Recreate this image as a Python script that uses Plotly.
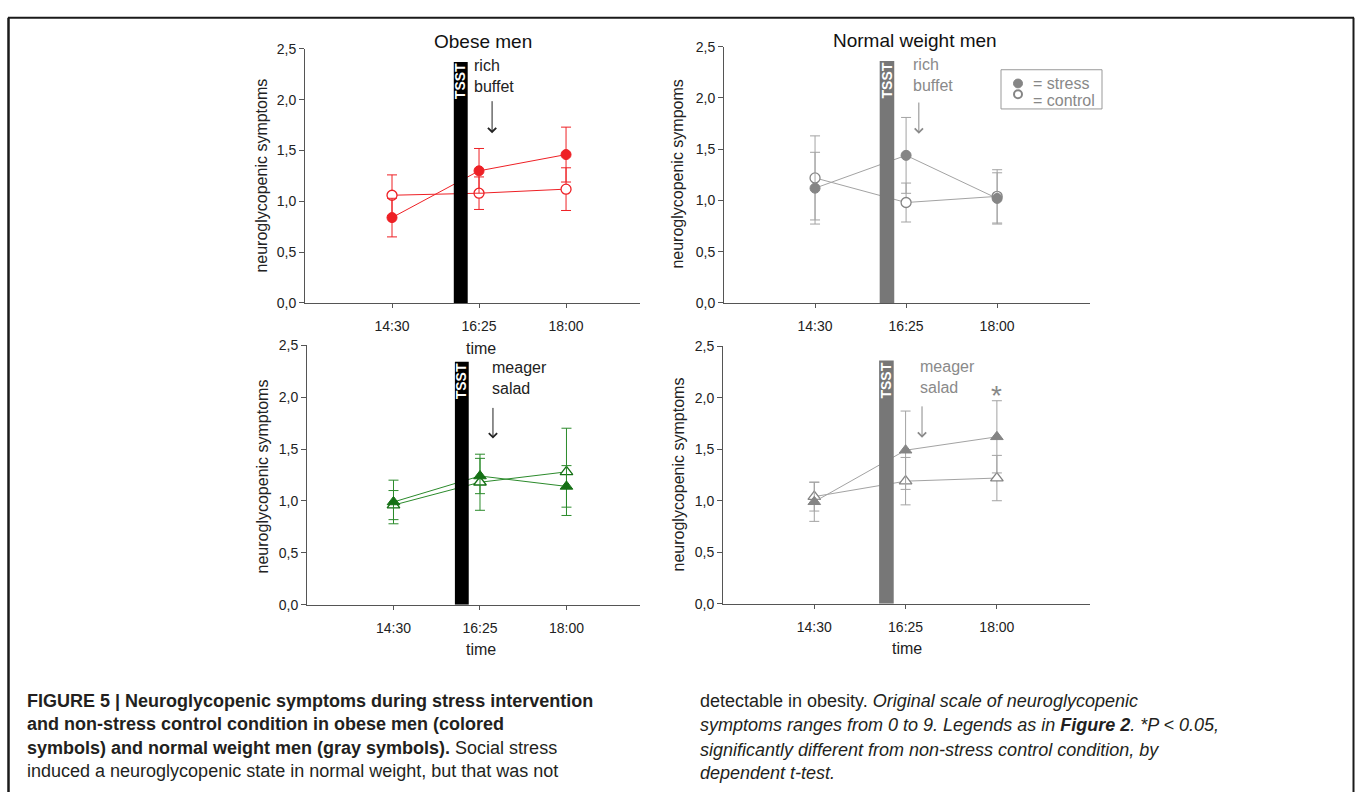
import plotly.graph_objects as go

W, H = 1357, 800
FONT = "Liberation Sans, Arial, Helvetica, sans-serif"

# ---------------- data ----------------
times = ["14:30", "16:25", "18:00"]
y_ticks = [0.0, 0.5, 1.0, 1.5, 2.0, 2.5]

obese_buffet_stress = [0.84, 1.30, 1.46]
obese_buffet_stress_err = [0.19, 0.22, 0.27]
obese_buffet_control = [1.06, 1.08, 1.12]
obese_buffet_control_err = [0.20, 0.16, 0.21]

normal_buffet_stress = [1.12, 1.44, 1.02]
normal_buffet_stress_err = [0.35, 0.37, 0.25]
normal_buffet_control = [1.22, 0.98, 1.04]
normal_buffet_control_err = [0.41, 0.19, 0.26]

obese_salad_stress = [0.99, 1.24, 1.14]
obese_salad_stress_err = [0.21, 0.17, 0.20]
obese_salad_control = [0.96, 1.18, 1.28]
obese_salad_control_err = [0.14, 0.27, 0.42]

normal_salad_stress = [0.99, 1.49, 1.62]
normal_salad_stress_err = [0.19, 0.38, 0.35]
normal_salad_control = [1.04, 1.19, 1.22]
normal_salad_control_err = [0.14, 0.23, 0.22]

# ---------------- helpers ----------------
def px(x):
    return x / W

def py(y):
    return 1 - y / H

RED = "#ee2025"
GREEN = "#2b8a2b"
GREEN_D = "#157015"
GRAY_M = "#858585"
GRAY_L = "#a3a3a3"
AXC = "#555555"

fig = go.Figure()

panels = [
    dict(ax="", xd=(305, 640), yd=(301, 41.7), xr=(-1.0, 2.85), line=RED, ms=RED, ebc=RED,
         sym="circle", s=obese_buffet_stress, se=obese_buffet_stress_err,
         c=obese_buffet_control, ce=obese_buffet_control_err),
    dict(ax="2", xd=(724, 1090), yd=(301, 39.5), xr=(-1.0, 3.02), line=GRAY_L, ms=GRAY_M, ebc=GRAY_L,
         sym="circle", s=normal_buffet_stress, se=normal_buffet_stress_err,
         c=normal_buffet_control, ce=normal_buffet_control_err),
    dict(ax="3", xd=(307, 640), yd=(609, 344), xr=(-1.0, 2.85), line=GREEN, ms=GREEN_D, ebc=GREEN,
         sym="triangle-up", s=obese_salad_stress, se=obese_salad_stress_err,
         c=obese_salad_control, ce=obese_salad_control_err),
    dict(ax="4", xd=(723, 1090), yd=(608, 345), xr=(-1.0, 3.02), line=GRAY_L, ms=GRAY_M, ebc=GRAY_L,
         sym="triangle-up", s=normal_salad_stress, se=normal_salad_stress_err,
         c=normal_salad_control, ce=normal_salad_control_err),
]

layout_axes = {}
for p in panels:
    xa = "x" + p["ax"]
    ya = "y" + p["ax"]
    msize = 10 if p["sym"] == "circle" else 11
    fig.add_trace(go.Scatter(
        x=times, y=p["c"], xaxis=xa, yaxis=ya, mode="lines+markers",
        line=dict(color=p["line"], width=1),
        marker=dict(symbol=p["sym"], size=msize, color="white",
                    line=dict(color=p["ms"], width=1.3)),
        error_y=dict(type="data", array=p["ce"], color=p["ebc"], thickness=1, width=5),
        showlegend=False))
    fig.add_trace(go.Scatter(
        x=times, y=p["s"], xaxis=xa, yaxis=ya, mode="lines+markers",
        line=dict(color=p["line"], width=1),
        marker=dict(symbol=p["sym"], size=msize, color=p["ms"],
                    line=dict(color=p["ms"], width=1)),
        error_y=dict(type="data", array=p["se"], color=p["ebc"], thickness=1, width=5),
        showlegend=False))
    xkey = "xaxis" + p["ax"]
    ykey = "yaxis" + p["ax"]
    layout_axes[xkey] = dict(
        domain=[px(p["xd"][0]), px(p["xd"][1])], anchor=ya,
        type="category", range=list(p["xr"]),
        showline=True, linecolor=AXC, linewidth=1,
        ticks="outside", ticklen=4, tickcolor=AXC, ticklabelstandoff=6,
        showgrid=False, zeroline=False,
        tickfont=dict(family=FONT, size=14, color="#222"))
    layout_axes[ykey] = dict(
        domain=[py(p["yd"][0]), py(p["yd"][1])], anchor=xa,
        range=[0, 2.5], tickvals=y_ticks, tickformat=".1f",
        showline=True, linecolor=AXC, linewidth=1,
        ticks="outside", ticklen=5, tickcolor=AXC,
        showgrid=False, zeroline=False,
        tickfont=dict(family=FONT, size=14, color="#222"))

shapes = []
annotations = []

# TSST bars
tsst = [("x", "y", "black", 2.37), ("x2", "y2", "#777777", 2.36),
        ("x3", "y3", "black", 2.34), ("x4", "y4", "#777777", 2.36)]
for xr, yr, col, top in tsst:
    shapes.append(dict(type="rect", xref=xr, yref=yr, x0=0.71, x1=0.87, y0=0, y1=top,
                       fillcolor=col, line=dict(width=0), layer="above"))
    annotations.append(dict(xref=xr, yref=yr, x=0.79, y=top - 0.19, text="<b>TSST</b>",
                            textangle=-90, showarrow=False,
                            font=dict(family=FONT, size=14, color="white")))

# meal labels and arrows
meals = [("x", "y", "rich<br>buffet", 0.92, 2.23, 1.15, 2.0, 1.67, "#222"),
         ("x2", "y2", "rich<br>buffet", 1.05, 2.22, 1.14, 1.97, 1.65, "#8a8a8a"),
         ("x3", "y3", "meager<br>salad", 1.12, 2.18, 1.15, 1.91, 1.60, "#222"),
         ("x4", "y4", "meager<br>salad", 1.14, 2.20, 1.18, 1.93, 1.61, "#8a8a8a")]
for xr, yr, txt, tx, ty, axx, y0, y1, col in meals:
    annotations.append(dict(xref=xr, yref=yr, x=tx, y=ty, text=txt, align="left",
                            xanchor="left", yanchor="middle", showarrow=False,
                            font=dict(family=FONT, size=16, color=col)))
    annotations.append(dict(xref=xr, yref=yr, x=axx, y=y1, ax=axx, ay=y0,
                            axref=xr, ayref=yr, text="", showarrow=True,
                            arrowhead=4, arrowsize=1.6, arrowwidth=1, arrowcolor=col))

annotations.append(dict(xref="x4", yref="y4", x="18:00", y=2.02, text="*", showarrow=False,
                        font=dict(family=FONT, size=28, color="#888888")))

for t, cx, cy in [("Obese men", 483, 34), ("Normal weight men", 915, 33)]:
    annotations.append(dict(xref="paper", yref="paper", x=px(cx), y=py(cy), text=t,
                            showarrow=False, xanchor="center", yanchor="middle",
                            font=dict(family=FONT, size=19, color="#111")))

for t, cx, cy in [("neuroglycopenic symptoms", 262, 171), ("neuroglycopenic sympoms", 678, 170),
                  ("neuroglycopenic symptoms", 262, 478), ("neuroglycopenic symptoms", 678, 476)]:
    annotations.append(dict(xref="paper", yref="paper", x=px(cx), y=py(cy), text=t,
                            textangle=-90, showarrow=False, xanchor="center", yanchor="middle",
                            font=dict(family=FONT, size=16, color="#222")))

for cx, cy in [(481, 347), (481, 655), (907, 654)]:
    annotations.append(dict(xref="paper", yref="paper", x=px(cx), y=py(cy), text="time",
                            showarrow=False, xanchor="center", yanchor="middle",
                            font=dict(family=FONT, size=16, color="#222")))

# legend box (top-right panel)
shapes.append(dict(type="rect", xref="paper", yref="paper", x0=px(1001), x1=px(1102),
                   y0=py(103), y1=py(63), line=dict(color="#999999", width=1),
                   fillcolor="white"))
shapes.append(dict(type="circle", xref="paper", yref="paper", x0=px(1013.5), x1=px(1022.5),
                   y0=py(81.5), y1=py(72.5), line=dict(color=GRAY_M, width=1), fillcolor=GRAY_M))
shapes.append(dict(type="circle", xref="paper", yref="paper", x0=px(1014), x1=px(1022),
                   y0=py(92), y1=py(84), line=dict(color=GRAY_M, width=2), fillcolor="white"))
for t, cy in [("= stress", 77), ("= control", 94)]:
    annotations.append(dict(xref="paper", yref="paper", x=px(1031), y=py(cy), text=t,
                            showarrow=False, xanchor="left", yanchor="middle",
                            font=dict(family=FONT, size=16, color="#888888")))

# frame
FR = "#1a1a1a"
shapes.append(dict(type="line", xref="paper", yref="paper", x0=px(8), x1=px(1354),
                   y0=py(10), y1=py(10), line=dict(color=FR, width=2)))
shapes.append(dict(type="line", xref="paper", yref="paper", x0=px(8.5), x1=px(8.5),
                   y0=py(10), y1=0, line=dict(color=FR, width=2.5)))
shapes.append(dict(type="line", xref="paper", yref="paper", x0=px(1353.5), x1=px(1353.5),
                   y0=py(10), y1=0, line=dict(color=FR, width=2)))

left_lines = [
    "<b>FIGURE 5 | Neuroglycopenic symptoms during stress intervention</b>",
    "<b>and non-stress control condition in obese men (colored</b>",
    "<b>symbols) and normal weight men (gray symbols).</b> Social stress",
    "induced a neuroglycopenic state in normal weight, but that was not",
]
right_lines = [
    "detectable in obesity. <i>Original scale of neuroglycopenic</i>",
    "<i>symptoms ranges from 0 to 9. Legends as in <b>Figure 2</b>. *P &lt; 0.05,</i>",
    "<i>significantly different from non-stress control condition, by</i>",
    "<i>dependent t-test.</i>",
]
for lines, x0, ys in [(left_lines, 25, [707, 731, 755, 779]),
                      (right_lines, 698, [707, 732, 757, 781])]:
    for t, yy in zip(lines, ys):
        annotations.append(dict(xref="paper", yref="paper", x=px(x0), y=py(yy), text=t,
                                showarrow=False, xanchor="left", yanchor="middle",
                                font=dict(family=FONT, size=18, color="#231f20")))

fig.update_layout(
    width=W, height=H, margin=dict(l=0, r=0, t=0, b=0),
    paper_bgcolor="white", plot_bgcolor="white",
    separators=",.", showlegend=False,
    shapes=shapes, annotations=annotations,
    **layout_axes)

POST = (
    "var gd=document.getElementById('{plot_id}');"
    "gd.style.position='fixed';gd.style.top='0px';gd.style.left='0px';"
    "document.body.style.margin='0';document.body.style.padding='0';"
    "document.body.style.overflow='hidden';"
    "document.documentElement.style.overflow='hidden';"
)

fig.write_html("out.html", config={"displayModeBar": False}, post_script=POST)
